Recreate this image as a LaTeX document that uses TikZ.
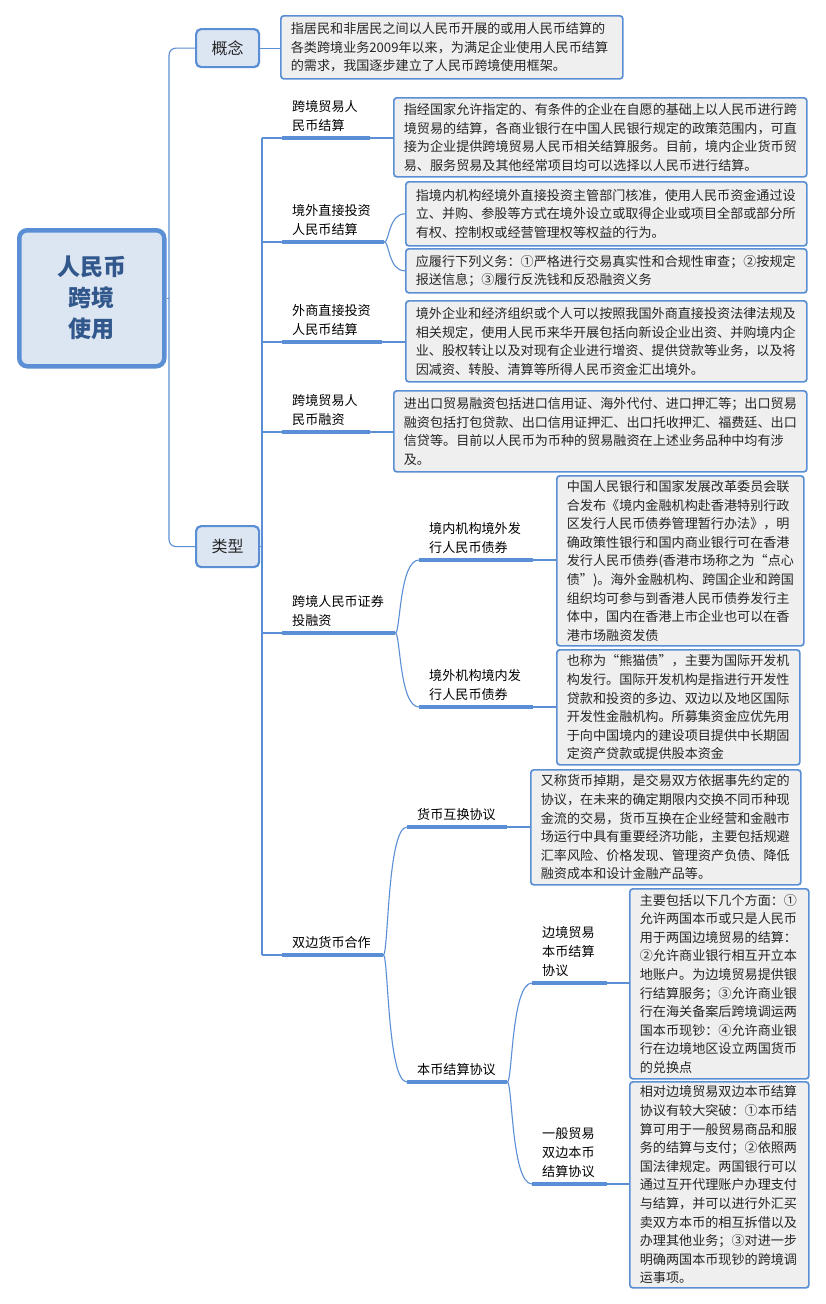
\documentclass[tikz,border=0pt]{standalone}
\usepackage{fontspec}
\setmainfont{Noto Sans CJK SC}
\usetikzlibrary{calc}
\definecolor{lb}{HTML}{5A8FD6}
\definecolor{boxfill}{HTML}{EFEFEF}
\definecolor{rootfill}{HTML}{DCE6F2}
\definecolor{roottxt}{HTML}{31578C}
\definecolor{txt}{HTML}{262626}
\begin{document}
\begin{tikzpicture}[x=1pt,y=-1pt,
  dbox/.style={draw=lb, line width=1.7pt, fill=boxfill, rounded corners=3pt, align=left,
    inner xsep=10pt, inner ysep=0pt, anchor=north west, text=txt,
    font=\fontsize{13.1}{18.6}\selectfont},
  lab/.style={anchor=south west, align=left, inner xsep=10pt, inner ysep=6.5pt, text=black,
    font=\fontsize{13.1}{18.8}\selectfont},
  conn/.style={draw=lb, line width=1.1pt},
  bar/.style={draw=lb, line width=3.4pt, line cap=butt},
  topic/.style={draw=lb, line width=2.2pt, fill=rootfill, rounded corners=5pt, anchor=north west,
    text=txt, font=\fontsize{16}{20}\selectfont, inner sep=0pt}
]
\fill[white] (0,0) rectangle (825,1304);
\useasboundingbox (0,0) rectangle (825,1304);

% root
\node[draw=lb, line width=4.5pt, fill=rootfill, rounded corners=8pt, anchor=north west,
  minimum width=145pt, minimum height=136pt, align=center, text=roottxt,
  font=\fontsize{23}{31}\selectfont\bfseries] (root) at (17,228) {人民币\\跨境\\使用};

% level 1
\node[topic, minimum width=63pt, minimum height=38pt] (gn) at (195,28) {概念};
\node[topic, minimum width=63pt, minimum height=41pt] (lx) at (195,525) {类型};

% definition box
\node[dbox, minimum width=342pt, minimum height=63pt, text width=322pt] (d0) at (280,15)
{指居民和非居民之间以人民币开展的或用人民币结算的\\各类跨境业务2009年以来，为满足企业使用人民币结算\\的需求，我国逐步建立了人民币跨境使用框架。};

% level 2 labels
\node[lab, minimum width=88pt, text width=68pt] (l1) at (282,138) {跨境贸易人\\民币结算};
\node[lab, minimum width=102pt, text width=82pt] (l2) at (282,242) {境外直接投资\\人民币结算};
\node[lab, minimum width=100pt, text width=80pt] (l3) at (282,342) {外商直接投资\\人民币结算};
\node[lab, minimum width=88pt, text width=68pt] (l4) at (282,432) {跨境贸易人\\民币融资};
\node[lab, minimum width=113pt, text width=93pt] (l5) at (282,633) {跨境人民币证券\\投融资};
\node[lab, minimum width=101pt, text width=81pt] (l6) at (282,955) {双边货币合作};

% level 3 labels
\node[lab, minimum width=114pt, text width=94pt] (m1) at (419,560) {境内机构境外发\\行人民币债券};
\node[lab, minimum width=114pt, text width=94pt] (m2) at (419,707) {境外机构境内发\\行人民币债券};
\node[lab, minimum width=100pt, text width=80pt] (m3) at (407,827) {货币互换协议};
\node[lab, minimum width=100pt, text width=80pt] (m4) at (407,1082) {本币结算协议};

% level 4 labels
\node[lab, minimum width=75pt, text width=55pt] (k1) at (532,983) {边境贸易\\本币结算\\协议};
\node[lab, minimum width=75pt, text width=55pt] (k2) at (532,1184) {一般贸易\\双边本币\\结算协议};

% detail boxes
\node[dbox, minimum width=413pt, minimum height=79pt, text width=393pt] (dA) at (393,97)
{指经国家允许指定的、有条件的企业在自愿的基础上以人民币进行跨\\境贸易的结算，各商业银行在中国人民银行规定的政策范围内，可直\\接为企业提供跨境贸易人民币相关结算服务。目前，境内企业货币贸\\易、服务贸易及其他经常项目均可以选择以人民币进行结算。};

\node[dbox, minimum width=401pt, minimum height=64pt, text width=381pt] (dB1) at (405,181)
{指境内机构经境外直接投资主管部门核准，使用人民币资金通过设\\立、并购、参股等方式在境外设立或取得企业或项目全部或部分所\\有权、控制权或经营管理权等权益的行为。};

\node[dbox, minimum width=401pt, minimum height=44pt, text width=381pt] (dB2) at (405,248)
{应履行下列义务：①严格进行交易真实性和合规性审查；②按规定\\报送信息；③履行反洗钱和反恐融资义务};

\node[dbox, minimum width=401pt, minimum height=81pt, text width=381pt] (dC) at (405,300)
{境外企业和经济组织或个人可以按照我国外商直接投资法律法规及\\相关规定，使用人民币来华开展包括向新设企业出资、并购境内企\\业、股权转让以及对现有企业进行增资、提供贷款等业务，以及将\\因减资、转股、清算等所得人民币资金汇出境外。};

\node[dbox, minimum width=413pt, minimum height=81pt, text width=393pt] (dD) at (393,390)
{进出口贸易融资包括进口信用证、海外代付、进口押汇等；出口贸易\\融资包括打包贷款、出口信用证押汇、出口托收押汇、福费廷、出口\\信贷等。目前以人民币为币种的贸易融资在上述业务品种中均有涉\\及。};

\node[dbox, minimum width=247pt, minimum height=170pt, text width=227pt] (dE1) at (556,475)
{中国人民银行和国家发展改革委员会联\\合发布《境内金融机构赴香港特别行政\\区发行人民币债券管理暂行办法》，明\\确政策性银行和国内商业银行可在香港\\发行人民币债券(香港市场称之为“点心\\债”)。海外金融机构、跨国企业和跨国\\组织均可参与到香港人民币债券发行主\\体中，国内在香港上市企业也可以在香\\港市场融资发债};

\node[dbox, minimum width=243pt, minimum height=115pt, text width=223pt] (dE2) at (556,649)
{也称为“熊猫债”，主要为国际开发机\\构发行。国际开发机构是指进行开发性\\贷款和投资的多边、双边以及地区国际\\开发性金融机构。所募集资金应优先用\\于向中国境内的建设项目提供中长期固\\定资产贷款或提供股本资金};

\node[dbox, minimum width=270pt, minimum height=115pt, text width=250pt] (dF) at (530,769)
{又称货币掉期，是交易双方依据事先约定的\\协议，在未来的确定期限内交换不同币种现\\金流的交易，货币互换在企业经营和金融市\\场运行中具有重要经济功能，主要包括规避\\汇率风险、价格发现、管理资产负债、降低\\融资成本和设计金融产品等。};

\node[dbox, minimum width=179pt, minimum height=190pt, text width=159pt] (dG1) at (629,888)
{主要包括以下几个方面：①\\允许两国本币或只是人民币\\用于两国边境贸易的结算：\\②允许商业银行相互开立本\\地账户。为边境贸易提供银\\行结算服务；③允许商业银\\行在海关备案后跨境调运两\\国本币现钞：④允许商业银\\行在边境地区设立两国货币\\的兑换点};

\node[dbox, minimum width=179pt, minimum height=206pt, text width=159pt] (dG2) at (629,1081)
{相对边境贸易双边本币结算\\协议有较大突破：①本币结\\算可用于一般贸易商品和服\\务的结算与支付；②依照两\\国法律规定。两国银行可以\\通过互开代理账户办理支付\\与结算，并可以进行外汇买\\卖双方本币的相互拆借以及\\办理其他业务；③对进一步\\明确两国本币现钞的跨境调\\运事项。};

% root trunk
\coordinate (t1) at (169,296);
\draw[conn] (root.east) -- (root.east -| t1);
\draw[conn, rounded corners=7pt] (gn.west) -- (gn.west -| t1) -- (lx.west -| t1) -- (lx.west);
\draw[conn] (gn.east) -- (gn.east -| d0.west);

% type trunk
\coordinate (t2) at (262,545);
\draw[conn] (lx.east) -- (lx.east -| t2);
\draw[conn] (t2 |- l1.south west) -- (t2 |- l6.south west);
\foreach \n in {l1,l2,l3,l4,l5,l6}{
  \draw[conn] (t2 |- \n.south west) -- (\n.south west);
}

% straight connectors
\draw[conn] (l1.south east) -- (l1.south east -| dA.west);
\draw[conn] (l3.south east) -- (l3.south east -| dC.west);
\draw[conn] (l4.south east) -- (l4.south east -| dD.west);
\draw[conn] (m1.south east) -- (m1.south east -| dE1.west);
\draw[conn] (m2.south east) -- (m2.south east -| dE2.west);
\draw[conn] (m3.south east) -- (m3.south east -| dF.west);
\draw[conn] (k1.south east) -- (k1.south east -| dG1.west);
\draw[conn] (k2.south east) -- (k2.south east -| dG2.west);

% curved connectors
\foreach \a/\b in {l2.south east/dB1.west, l2.south east/dB2.west,
                   l5.south east/m1.south west, l5.south east/m2.south west,
                   l6.south east/m3.south west, l6.south east/m4.south west,
                   m4.south east/k1.south west, m4.south east/k2.south west}{
  \draw[conn] (\a) .. controls ($(\a)+(5,0)$) and ($(\a |- \b)+(4,0)$) .. (\b);
}

% bars
\foreach \n in {l1,l2,l3,l4,l5,l6,m1,m2,m3,m4,k1,k2}{
  \draw[bar] (\n.south west) -- (\n.south east);
}
\end{tikzpicture}
\end{document}
